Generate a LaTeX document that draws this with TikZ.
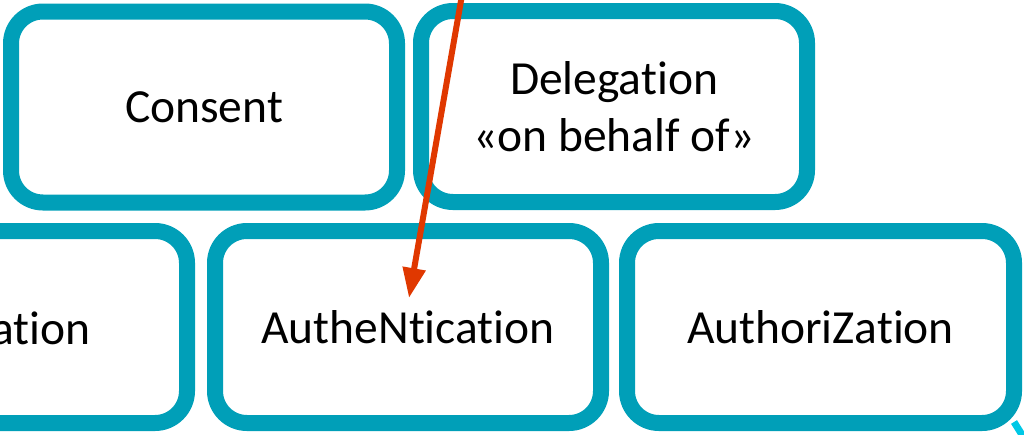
\documentclass[tikz,border=0pt]{standalone}
\usepackage{fontspec}
\setmainfont[Ligatures=NoCommon]{Carlito}
\usetikzlibrary{arrows.meta}
\definecolor{teal1}{RGB}{0,159,184}
\definecolor{redarrow}{RGB}{224,56,0}
\definecolor{cyanline}{RGB}{0,200,230}
\tikzset{
  box/.style={draw=teal1, line width=16pt, rounded corners=32pt, fill=white,
    minimum width=386pt, minimum height=191pt, inner sep=0pt, outer sep=0pt,
    font=\fontsize{47.5}{57}\selectfont, align=center, text=black},
  lbl/.style={font=\fontsize{47.5}{57}\selectfont, text=black, inner sep=0pt},
  redarr/.style={draw=redarrow, line width=6pt, -{Triangle[length=30pt,width=22pt]}},
}
\begin{document}
\begin{tikzpicture}[x=1pt,y=-1pt]
\useasboundingbox (0,0) rectangle (1024,434);
\node[box] (consent) at (204,107) {Consent};
\node[box] (deleg) at (614,106.5) {Delegation\\«on behalf of»};
\node[box, minimum height=192pt] (left) at (-6,327) {};
\node[lbl, anchor=base east] (leftlbl) at (91,344) {ation};
\node[box, minimum height=192pt] (authn) at (408,327) {AutheNtication};
\node[box, minimum height=192pt, minimum width=387pt] (authz) at (820.5,327) {AuthoriZation};
\coordinate (src) at (462,-5);
\coordinate (tip) at (409,298);
\draw[redarr] (src) -- (tip);
\coordinate (c1) at (1014,422);
\coordinate (c2) at (1024,438);
\draw[cyanline, line width=7pt] (c1) -- (c2);
\end{tikzpicture}
\end{document}
